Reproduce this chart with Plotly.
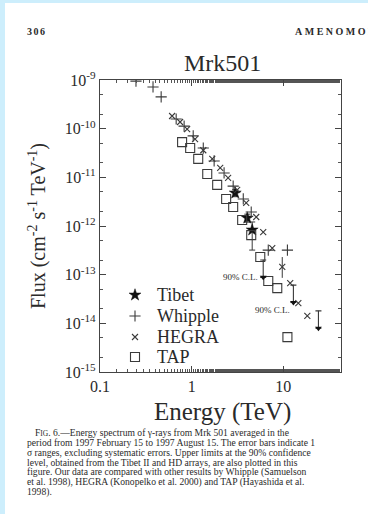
import plotly.graph_objects as go
import numpy as np

# ---------------- data ----------------
tibet_E = [2.99, 4.05, 4.58]
tibet_F = [4.77e-12, 1.46e-12, 8.3e-13]
tibet_F_hi = [5.6e-12, 1.75e-12, 1.21e-12]
tibet_F_lo = [4.0e-12, 1.2e-12, 3.2e-13]

tibet_ul_E = [6.04, 12.9, 24.2]
tibet_ul_F = [2.0e-13, 6.1e-14, 1.8e-14]

whipple_E = [0.247, 0.379, 0.465, 0.678, 0.828, 1.04, 1.34, 1.76, 2.26, 2.84, 3.66, 4.47, 6.86, 11.1]
whipple_F = [9.5e-10, 7.2e-10, 4.5e-10, 1.58e-10, 1.13e-10, 7.1e-11, 4.0e-11, 2.17e-11,
             1.23e-11, 6.6e-12, 3.6e-12, 1.94e-12, 3.2e-13, 3.2e-13]

hegra_E = [0.612, 0.748, 0.893, 1.09, 1.34, 1.68, 2.05, 2.50, 3.14, 3.94, 5.07, 6.04, 7.58,
           9.75, 11.9, 14.6, 18.3]
hegra_F = [1.82e-10, 1.37e-10, 9.8e-11, 6.1e-11, 3.6e-11, 2.4e-11, 1.56e-11, 9.7e-12, 5.5e-12,
           3.0e-12, 1.53e-12, 7.5e-13, 3.5e-13, 1.44e-13, 6.7e-14, 2.6e-14, 1.42e-14]
hegra_F_hi = [None] * 13 + [2.3e-13, None, None, None]
hegra_F_lo = [None] * 13 + [8.6e-14, None, None, None]

tap_E = [0.787, 0.964, 1.18, 1.48, 1.90, 2.38, 2.84, 3.56, 4.47, 5.61, 6.86, 8.6, 11.1]
tap_F = [5.3e-11, 4.0e-11, 2.4e-11, 1.17e-11, 7.0e-12, 3.6e-12, 2.46e-12, 1.33e-12, 6.5e-13,
         2.3e-13, 7.4e-14, 5.3e-14, 5.2e-15]

series_names = ["Tibet", "Whipple", "HEGRA", "TAP"]

x_tick_vals = [0.1, 1, 10]
x_tick_text = ["0.1", "1", "10"]
y_tick_vals = [1e-9, 1e-10, 1e-11, 1e-12, 1e-13, 1e-14, 1e-15]
y_tick_text = ["10<sup>-9</sup>", "10<sup>-10</sup>", "10<sup>-11</sup>", "10<sup>-12</sup>",
               "10<sup>-13</sup>", "10<sup>-14</sup>", "10<sup>-15</sup>"]

cl_label = "90% C.L."
caption_lines = [
    "F<span style='font-size:7.5px'>IG</span>. 6.—Energy spectrum of γ-rays from Mrk 501 averaged in the",
    "period from 1997 February 15 to 1997 August 15. The error bars indicate 1",
    "σ ranges, excluding systematic errors. Upper limits at the 90% confidence",
    "level, obtained from the Tibet II and HD arrays, are also plotted in this",
    "figure. Our data are compared with other results by Whipple (Samuelson",
    "et al. 1998), HEGRA (Konopelko et al. 2000) and TAP (Hayashida et al.",
    "1998).",
]

# ---------------- styles ----------------
W, H = 368, 514
ML, MR, MT, MB = 100, 27, 80, 142
PW, PH = W - ML - MR, H - MT - MB
SERIF = "Liberation Serif, Times New Roman, serif"
INK = "#2a2a2a"
MARK = "#3a3a3a"
ARROW_FACTOR = 0.44

marker_styles = {
    "Tibet": dict(symbol="star", size=9, color="#111", line=dict(width=0.5, color="#111")),
    "Whipple": dict(symbol="cross-thin", size=8, line=dict(width=1.1, color=MARK)),
    "HEGRA": dict(symbol="x-thin", size=6, line=dict(width=1.1, color=MARK)),
    "TAP": dict(symbol="square-open", size=9, color=MARK, line=dict(width=1.1, color=MARK)),
}


def px2x(px):
    return (px - ML) / PW


def py2y(py):
    return (H - MB - py) / PH


fig = go.Figure()

fig.add_trace(go.Scatter(
    x=tibet_E, y=tibet_F, mode="markers", name="Tibet", marker=marker_styles["Tibet"],
    error_y=dict(type="data", symmetric=False,
                 array=[h - f for h, f in zip(tibet_F_hi, tibet_F)],
                 arrayminus=[f - l for f, l in zip(tibet_F, tibet_F_lo)],
                 color=MARK, thickness=1, width=3),
))
fig.add_trace(go.Scatter(x=whipple_E, y=whipple_F, mode="markers", name="Whipple",
                         marker=marker_styles["Whipple"]))
fig.add_trace(go.Scatter(
    x=hegra_E, y=hegra_F, mode="markers", name="HEGRA", marker=marker_styles["HEGRA"],
    error_y=dict(type="data", symmetric=False,
                 array=[(h - f) if h else 0 for h, f in zip(hegra_F_hi, hegra_F)],
                 arrayminus=[(f - l) if l else 0 for f, l in zip(hegra_F, hegra_F_lo)],
                 color=MARK, thickness=1, width=0),
))
fig.add_trace(go.Scatter(x=tap_E, y=tap_F, mode="markers", name="TAP",
                         marker=marker_styles["TAP"]))

# Tibet upper limits (90% C.L.) with downward arrows
ul_tip = [f * ARROW_FACTOR for f in tibet_ul_F]
fig.add_trace(go.Scatter(
    x=tibet_ul_E, y=tibet_ul_F, mode="markers",
    marker=dict(size=1, color=MARK),
    error_y=dict(type="data", symmetric=False, array=[0] * len(tibet_ul_F),
                 arrayminus=[f - t for f, t in zip(tibet_ul_F, ul_tip)],
                 color=MARK, thickness=1.1, width=3),
))
fig.add_trace(go.Scatter(x=tibet_ul_E, y=ul_tip, mode="markers",
                         marker=dict(symbol="triangle-down", size=6, color="#111")))

# hand-placed legend (markers on an overlay axis, labels as text)
legend_rows_py = [295, 316, 337, 357]
for name, rpy in zip(series_names, legend_rows_py):
    fig.add_trace(go.Scatter(x=[px2x(135)], y=[py2y(rpy)], xaxis="x2", yaxis="y2",
                             mode="markers", marker=marker_styles[name]))

annotations = []
for name, rpy in zip(series_names, legend_rows_py):
    annotations.append(dict(x=px2x(155), y=py2y(rpy), xref="paper", yref="paper", text=name,
                            showarrow=False, xanchor="left", yanchor="middle",
                            font=dict(family=SERIF, size=18, color=INK)))

annotations.append(dict(x=np.log10(tibet_ul_E[0]) - 0.04, y=np.log10(ul_tip[0]),
                        xref="x", yref="y", text=cl_label, showarrow=False,
                        xanchor="right", yanchor="middle",
                        font=dict(family=SERIF, size=9, color=INK)))
annotations.append(dict(x=np.log10(tibet_ul_E[1]) - 0.01, y=np.log10(ul_tip[1]) - 0.15,
                        xref="x", yref="y", text=cl_label, showarrow=False,
                        xanchor="right", yanchor="middle",
                        font=dict(family=SERIF, size=9, color=INK)))

annotations.append(dict(x=px2x(222), y=py2y(63), xref="paper", yref="paper", text="Mrk501",
                        showarrow=False, xanchor="center", yanchor="middle",
                        font=dict(family=SERIF, size=24, color=INK)))
annotations.append(dict(x=px2x(222), y=py2y(412), xref="paper", yref="paper", text="Energy (TeV)",
                        showarrow=False, xanchor="center", yanchor="middle",
                        font=dict(family=SERIF, size=25, color=INK)))
annotations.append(dict(x=px2x(37), y=py2y(226), xref="paper", yref="paper",
                        text="Flux (cm<sup>-2</sup> s<sup>-1</sup> TeV<sup>-1</sup>)",
                        textangle=-90, showarrow=False, xanchor="center", yanchor="middle",
                        font=dict(family=SERIF, size=20, color=INK)))
annotations.append(dict(x=px2x(25), y=py2y(31), xref="paper", yref="paper",
                        text="<b><span style='letter-spacing:1.5px'>306</span></b>",
                        showarrow=False, xanchor="left", yanchor="middle",
                        font=dict(family=SERIF, size=10, color=INK)))
annotations.append(dict(x=px2x(293), y=py2y(31), xref="paper", yref="paper",
                        text="<b><span style='letter-spacing:2.5px'>AMENOMORI ET AL.</span></b>",
                        showarrow=False, xanchor="left",
                        yanchor="middle", font=dict(family=SERIF, size=10, color=INK)))
for i, line in enumerate(caption_lines):
    annotations.append(dict(x=px2x(33 if i == 0 else 25), y=py2y(432 + 10 * i), xref="paper",
                            yref="paper", text=line, showarrow=False, xanchor="left",
                            yanchor="middle", font=dict(family=SERIF, size=9.6, color=INK)))

shapes = [
    dict(type="rect", xref="paper", yref="paper", x0=px2x(5), x1=px2x(W + 5),
         y0=py2y(H + 5), y1=py2y(3), fillcolor="white", line=dict(width=0), layer="below"),
]

axis_common = dict(
    type="log", showgrid=False, zeroline=False, showline=True, mirror="allticks",
    linecolor="#444", linewidth=1.3, ticks="inside", ticklen=6, tickwidth=1, tickcolor="#444",
    minor=dict(ticks="inside", ticklen=3, tickwidth=1, tickcolor="#555"),
    tickfont=dict(family=SERIF, size=16, color=INK),
)

fig.update_layout(
    width=W, height=H, margin=dict(l=ML, r=MR, t=MT, b=MB),
    paper_bgcolor="#cdeefc", plot_bgcolor="white", showlegend=False,
    xaxis=dict(axis_common, range=[-1, 1.63], tickvals=x_tick_vals, ticktext=x_tick_text),
    yaxis=dict(axis_common, range=[-15, -9], tickvals=y_tick_vals, ticktext=y_tick_text),
    xaxis2=dict(overlaying="x", range=[0, 1], visible=False),
    yaxis2=dict(overlaying="y", range=[0, 1], visible=False),
    annotations=annotations, shapes=shapes,
)

fig.write_html("out.html")
